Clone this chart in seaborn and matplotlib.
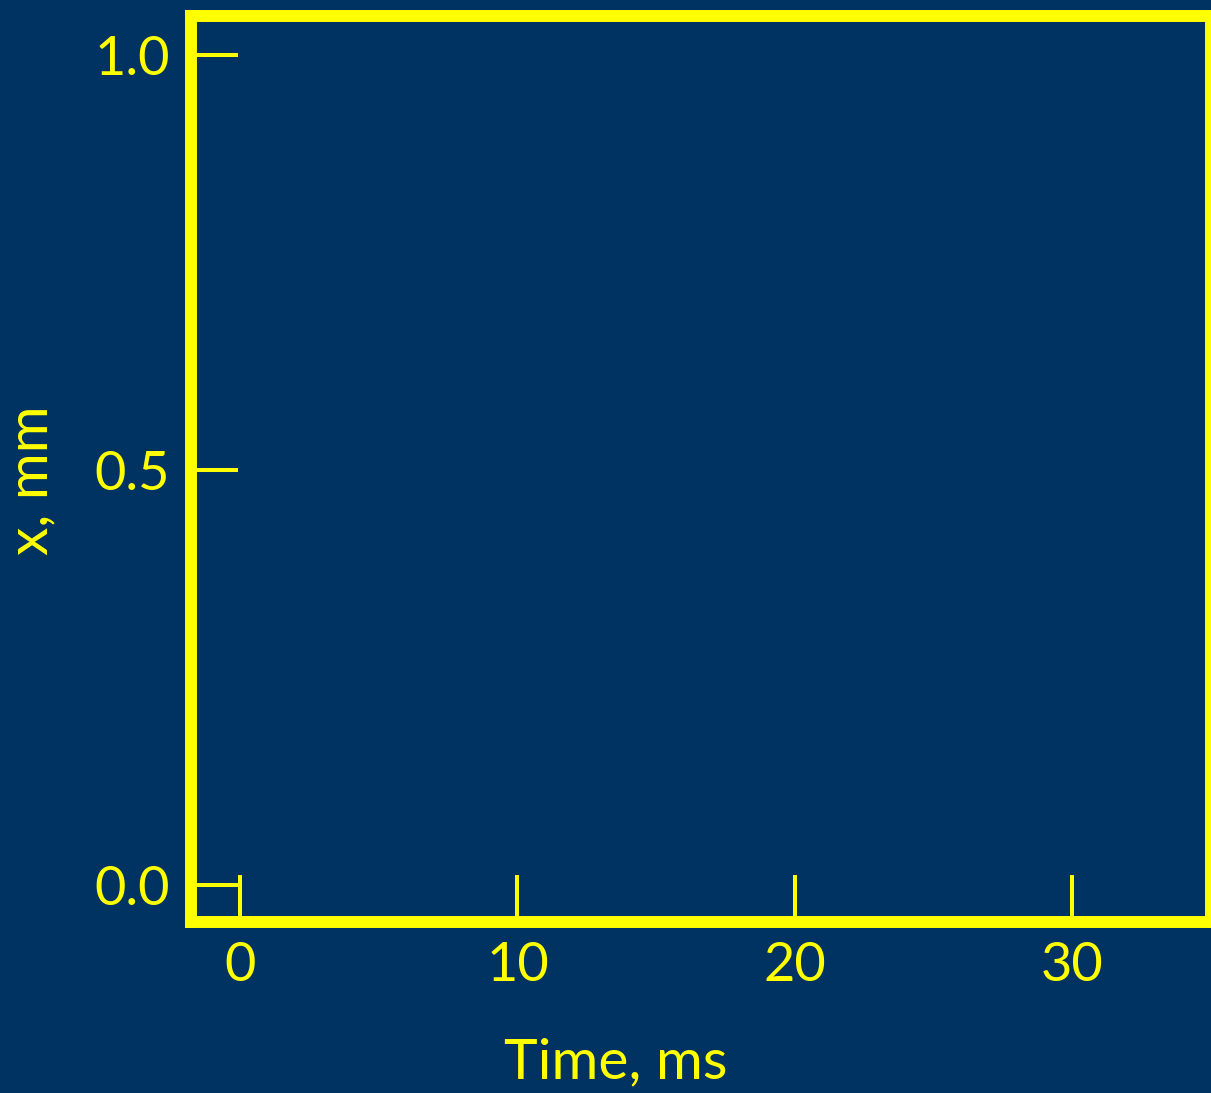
import matplotlib
matplotlib.use("Agg")
import matplotlib.pyplot as plt
import seaborn as sns
import pandas as pd

# Axis setup for an empty displacement-vs-time frame
x_ticks = [0, 10, 20, 30]
y_ticks = [0.0, 0.5, 1.0]
y_tick_labels = ["0.0", "0.5", "1.0"]
x_limits = (-1.77, 35.0)
y_limits = (-0.0452, 1.047)
x_label = "Time, ms"
y_label = "x, mm"

bg = "#003262"
fg = "#ffff00"

sns.set_theme(style="ticks")
plt.rcParams["font.family"] = ["Lato", "DejaVu Sans"]

fig = plt.figure(figsize=(12.11, 10.93), dpi=100, facecolor=bg)
ax = fig.add_axes([191 / 1211, 1 - 922 / 1093, 1 - 191 / 1211, (922 - 16) / 1093])
ax.set_facecolor(bg)

# empty series so the axes come from seaborn
empty = pd.DataFrame({"t": pd.Series([], dtype=float), "x": pd.Series([], dtype=float)})
sns.lineplot(data=empty, x="t", y="x", ax=ax)

ax.set_xlim(*x_limits)
ax.set_ylim(*y_limits)
ax.set_xticks(x_ticks)
ax.set_xticklabels([str(v) for v in x_ticks])
ax.set_yticks(y_ticks)
ax.set_yticklabels(y_tick_labels)

for side in ["left", "right", "top", "bottom"]:
    ax.spines[side].set_visible(True)
    ax.spines[side].set_color(fg)
    ax.spines[side].set_linewidth(8.6)

ax.tick_params(axis="both", direction="in", length=34, width=2.9, color=fg,
               labelcolor=fg, labelsize=39)
ax.tick_params(axis="x", pad=14)
ax.tick_params(axis="y", pad=15)

ax.set_xlabel(x_label, color=fg, fontsize=41)
ax.set_ylabel(y_label, color=fg, fontsize=41)
ax.xaxis.set_label_coords(0.416, -0.127)
ax.yaxis.set_label_coords(-0.131, 0.488)

fig.savefig("out.png", dpi=100, facecolor=bg)
